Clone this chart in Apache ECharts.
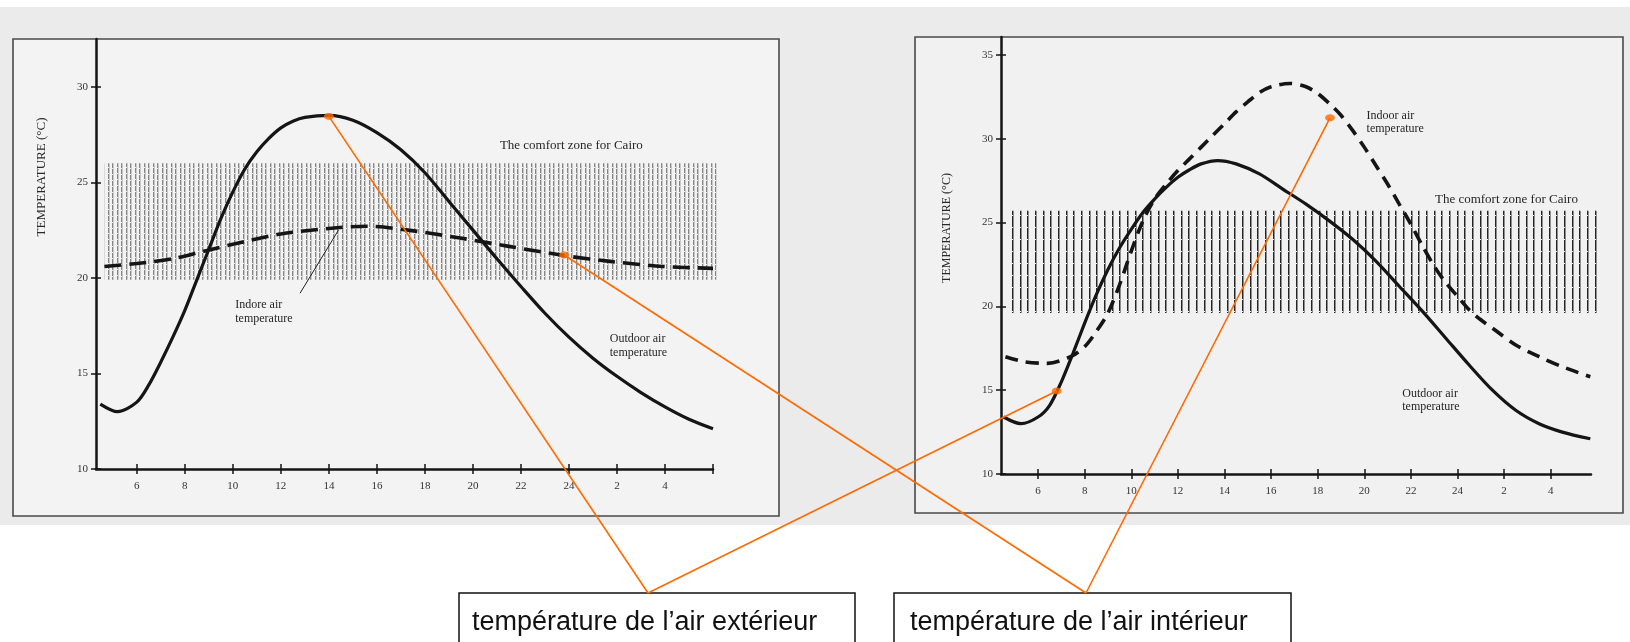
<!DOCTYPE html>
<html><head><meta charset="utf-8">
<script src="https://cdn.jsdelivr.net/npm/echarts@6/dist/echarts.min.js"></script>
<style>html,body{margin:0;padding:0;background:#fff;overflow:hidden}#c{width:1630px;height:642px}</style>
</head><body><div id="c"></div>
<script>
// ---- data (hours after midnight; values above 24 belong to the next day) ----
const xTicks = [6, 8, 10, 12, 14, 16, 18, 20, 22, 24, 26, 28];
const xTickLabels = ['6', '8', '10', '12', '14', '16', '18', '20', '22', '24', '2', '4'];
const leftXTickMarks = [6, 8, 10, 12, 14, 16, 18, 20, 22, 24, 26, 28, 30];
const leftYTicks = [10, 15, 20, 25, 30];
const rightYTicks = [10, 15, 20, 25, 30, 35];

const leftOutdoor = [[4.48,13.4],[5.2,13.0],[6.0,13.5],[6.5,14.4],[7.0,15.6],[7.5,16.9],[8.0,18.3],[8.5,19.9],[9.0,21.5],[9.5,23.1],[10.0,24.5],[10.5,25.7],[11.0,26.6],[11.5,27.3],[12.0,27.85],[12.5,28.2],[13.0,28.4],[14.0,28.5],[15.0,28.25],[16.0,27.6],[17.0,26.7],[18.0,25.5],[19.0,24.0],[20.0,22.5],[21.0,21.0],[22.0,19.55],[23.0,18.15],[24.0,16.9],[25.0,15.8],[26.0,14.85],[27.0,14.0],[28.0,13.25],[29.0,12.6],[30.0,12.1]];
const leftIndoor = [[4.65,20.6],[6.0,20.75],[7.5,21.0],[8.8,21.4],[10.5,21.9],[12.0,22.3],[14.1,22.6],[15.6,22.7],[17.3,22.5],[19.4,22.1],[21.5,21.65],[23.9,21.15],[25.8,20.85],[27.9,20.6],[30.0,20.5]];
const rightOutdoor = [[4.52,13.4],[5.27,13.0],[6.0,13.4],[6.5,14.1],[7.0,15.5],[7.5,17.2],[8.0,19.0],[8.5,20.7],[9.0,22.2],[9.5,23.5],[10.0,24.6],[10.5,25.6],[11.0,26.4],[11.5,27.1],[12.0,27.7],[12.5,28.15],[13.0,28.5],[13.7,28.7],[14.5,28.5],[15.5,27.9],[16.5,27.0],[17.5,26.1],[18.5,25.1],[19.5,24.0],[20.5,22.7],[21.5,21.2],[22.5,19.7],[23.5,18.1],[24.5,16.5],[25.5,15.0],[26.5,13.8],[27.5,13.0],[28.5,12.5],[29.7,12.1]];
const rightIndoor = [[4.6,17.0],[5.4,16.7],[6.4,16.6],[7.4,17.0],[8.0,17.6],[8.5,18.5],[9.0,19.6],[9.5,21.3],[10.0,23.3],[10.5,25.1],[11.0,26.4],[11.5,27.3],[12.0,28.1],[12.5,28.8],[13.0,29.5],[13.5,30.2],[14.0,30.9],[14.5,31.6],[15.0,32.2],[15.5,32.75],[16.0,33.1],[16.8,33.3],[17.5,33.1],[18.0,32.7],[18.5,32.1],[19.0,31.4],[19.5,30.5],[20.0,29.5],[20.5,28.4],[21.0,27.3],[21.5,26.1],[22.0,24.9],[22.5,23.6],[23.0,22.4],[23.5,21.4],[24.0,20.6],[24.5,19.8],[25.0,19.2],[25.5,18.7],[26.5,17.7],[27.5,17.0],[28.5,16.4],[29.7,15.8]];

// comfort zones: [hourFrom, hourTo, tempLow, tempHigh]
const leftComfortZone = [4.65, 30.15, 19.9, 26.0];
const rightComfortZone = [4.87, 30.2, 19.6, 25.7];

// annotated points [hour, temp]
const leftOutdoorMark = [14.0, 28.45];
const leftIndoorMark = [23.8, 21.2];
const rightOutdoorMark = [6.8, 14.95];
const rightIndoorMark = [18.53, 31.25];
const leftPointer = [[12.8, 19.2], [14.4, 22.5]];

// texts
const yAxisTitle = 'TEMPERATURE (°C)';
const comfortText = 'The comfort zone for Cairo';
const leftIndoorText = 'Indore air\ntemperature';
const rightIndoorText = 'Indoor air\ntemperature';
const outdoorText = 'Outdoor air\ntemperature';
const boxOutdoorText = 'température de l’air extérieur';
const boxIndoorText = 'température de l’air intérieur';

// ---- styling helpers ----
function makePattern(w, h, draw) {
  const c = document.createElement('canvas');
  c.width = w; c.height = h;
  draw(c.getContext('2d'));
  return { image: c, repeat: 'repeat' };
}
const leftHatch = makePattern(9, 6, g => {
  g.fillStyle = 'rgba(105,105,105,0.8)';
  g.fillRect(0, 0, 1, 5); g.fillRect(4, 1, 1, 5);
  g.fillStyle = 'rgba(150,150,150,0.45)';
  g.fillRect(1, 0, 1, 6); g.fillRect(5, 0, 1, 6);
});
const rightHatch = makePattern(23, 12, g => {
  g.fillStyle = 'rgba(25,25,25,0.95)';
  [0, 8, 15].forEach(x => g.fillRect(x, 0, 1, 11));
  g.fillStyle = 'rgba(60,60,60,0.55)';
  [1, 9, 16].forEach(x => g.fillRect(x, 0, 1, 12));
});

const serif = 'Liberation Serif';
const ink = '#151515';

function xAxisCfg(grid, min, max, main, tickMarks) {
  return {
    type: 'value', gridIndex: grid, min: min, max: max, position: 'bottom', offset: 0,
    axisLine: { show: main, onZero: false, lineStyle: { color: ink, width: 2.5 } },
    splitLine: { show: false },
    axisTick: { show: true, inside: !main, length: 5, customValues: tickMarks, lineStyle: { color: ink, width: 1.5 } },
    axisLabel: { show: main, customValues: xTicks, margin: 12, fontFamily: serif, fontSize: 11, color: '#333',
      formatter: v => xTickLabels[xTicks.indexOf(Math.round(v))] }
  };
}
function yAxisCfg(grid, max, ticks, main) {
  return {
    type: 'value', gridIndex: grid, min: 10, max: max, position: 'left', offset: 0,
    axisLine: { show: main, onZero: false, lineStyle: { color: ink, width: 2.5 } },
    splitLine: { show: false },
    axisTick: { show: true, inside: !main, length: 5, customValues: ticks, lineStyle: { color: ink, width: 1.5 } },
    axisLabel: { show: main, customValues: ticks, margin: 8, fontFamily: serif, fontSize: 11, color: '#333' }
  };
}
function zoneSeries(xi, zone, pattern) {
  return {
    type: 'custom', xAxisIndex: xi, yAxisIndex: xi, z: 1, silent: true, clip: false,
    encode: { x: [0, 1], y: [2, 3] },
    data: [zone],
    renderItem: (params, api) => {
      const p0 = api.coord([api.value(0), api.value(3)]);
      const p1 = api.coord([api.value(1), api.value(2)]);
      return { type: 'rect', shape: { x: p0[0], y: p0[1], width: p1[0] - p0[0], height: p1[1] - p0[1] },
        style: { fill: pattern } };
    }
  };
}
function curve(xi, data, dashed, dash) {
  return {
    type: 'line', xAxisIndex: xi, yAxisIndex: xi, data: data, smooth: 0.3, showSymbol: false, z: 3, silent: true,
    lineStyle: { color: ink, width: dashed ? 3.6 : 3.2, type: dashed ? dash : 'solid' }
  };
}

const chart = echarts.init(document.getElementById('c'), null, { renderer: 'canvas' });
chart.setOption({
  animation: false,
  backgroundColor: '#ffffff',
  grid: [
    { left: 96, top: 39, width: 617, height: 430 },
    { left: 1001, top: 37, width: 590, height: 437 }
  ],
  xAxis: [
    xAxisCfg(0, 4.3, 30.0, true, leftXTickMarks), xAxisCfg(1, 4.41, 29.73, true, xTicks),
    xAxisCfg(0, 4.3, 30.0, false, leftXTickMarks), xAxisCfg(1, 4.41, 29.73, false, xTicks)
  ],
  yAxis: [yAxisCfg(0, 32.5, leftYTicks, true), yAxisCfg(1, 36.07, rightYTicks, true), yAxisCfg(0, 32.5, leftYTicks, false), yAxisCfg(1, 36.07, rightYTicks, false)],
  series: [
    curve(0, leftOutdoor, false),
    curve(0, leftIndoor, true, [17, 8]),
    curve(1, rightOutdoor, false),
    curve(1, rightIndoor, true, [13, 8]),
    zoneSeries(0, leftComfortZone, leftHatch),
    zoneSeries(1, rightComfortZone, rightHatch),
    { type: 'line', xAxisIndex: 0, yAxisIndex: 0, data: leftPointer, showSymbol: false, z: 3, silent: true,
      lineStyle: { color: '#222', width: 1 } },
    { type: 'scatter', xAxisIndex: 0, yAxisIndex: 0, data: [leftOutdoorMark, leftIndoorMark], symbol: 'circle',
      symbolSize: [10, 7], itemStyle: { color: '#ff6a00' }, z: 6, silent: true },
    { type: 'scatter', xAxisIndex: 1, yAxisIndex: 1, data: [rightOutdoorMark, rightIndoorMark], symbol: 'circle',
      symbolSize: [10, 7], itemStyle: { color: '#ff6a00' }, z: 6, silent: true }
  ]
});

const L = v => chart.convertToPixel({ seriesIndex: 0 }, v);
const R = v => chart.convertToPixel({ seriesIndex: 2 }, v);

function label(p, text, align, vAlign, size, lh) {
  return { type: 'text', x: p[0], y: p[1], z: 8, silent: true,
    style: { text: text, fill: '#262626', font: size + 'px ' + serif, align: align, verticalAlign: vAlign, lineHeight: lh || size + 2 } };
}
function orange(a, b) {
  return { type: 'line', z: 30, silent: true, shape: { x1: a[0], y1: a[1], x2: b[0], y2: b[1] },
    style: { stroke: '#ff6a00', lineWidth: 1.6 } };
}
const box1Top = [648, 593];
const box2Top = [1086, 593];

chart.setOption({
  graphic: [
    { type: 'rect', z: -10, silent: true, shape: { x: 0, y: 7, width: 1630, height: 518 }, style: { fill: '#ebebeb' } },
    { type: 'rect', z: -9, silent: true, shape: { x: 13, y: 39, width: 766, height: 477 }, style: { fill: '#f3f3f3', stroke: '#4a4a4a', lineWidth: 1.6 } },
    { type: 'rect', z: -9, silent: true, shape: { x: 915, y: 37, width: 708, height: 476 }, style: { fill: '#f1f1f1', stroke: '#4a4a4a', lineWidth: 1.6 } },
    { type: 'text', z: 8, silent: true, x: 42, y: 177, rotation: Math.PI / 2,
      style: { text: yAxisTitle, font: '13px ' + serif, fill: '#2a2a2a', align: 'center', verticalAlign: 'middle' } },
    { type: 'text', z: 8, silent: true, x: 947, y: 228, rotation: Math.PI / 2,
      style: { text: yAxisTitle, font: '12px ' + serif, fill: '#2a2a2a', align: 'center', verticalAlign: 'middle' } },
    label(L([24.1, 26.9]), comfortText, 'center', 'middle', 13),
    label(L([10.1, 18.95]), leftIndoorText, 'left', 'top', 12, 14),
    label(L([25.7, 17.17]), outdoorText, 'left', 'top', 12, 14),
    label(R([20.1, 31.78]), rightIndoorText, 'left', 'top', 12, 13.5),
    label(R([26.1, 26.35]), comfortText, 'center', 'middle', 13),
    label(R([21.63, 15.19]), outdoorText, 'left', 'top', 12, 13.5),
    orange(L(leftOutdoorMark), box1Top),
    orange(R(rightOutdoorMark), box1Top),
    orange(L(leftIndoorMark), box2Top),
    orange(R(rightIndoorMark), box2Top),
    { type: 'rect', z: 25, silent: true, shape: { x: 459, y: 593, width: 396, height: 60 }, style: { fill: '#ffffff', stroke: '#111', lineWidth: 1.5 } },
    { type: 'rect', z: 25, silent: true, shape: { x: 894, y: 593, width: 397, height: 60 }, style: { fill: '#ffffff', stroke: '#111', lineWidth: 1.5 } },
    { type: 'text', z: 26, silent: true, x: 472, y: 623,
      style: { text: boxOutdoorText, font: '27px Liberation Sans', fill: '#111', align: 'left', verticalAlign: 'middle' } },
    { type: 'text', z: 26, silent: true, x: 910, y: 623,
      style: { text: boxIndoorText, font: '27px Liberation Sans', fill: '#111', align: 'left', verticalAlign: 'middle' } }
  ]
});
</script>
</body></html>
